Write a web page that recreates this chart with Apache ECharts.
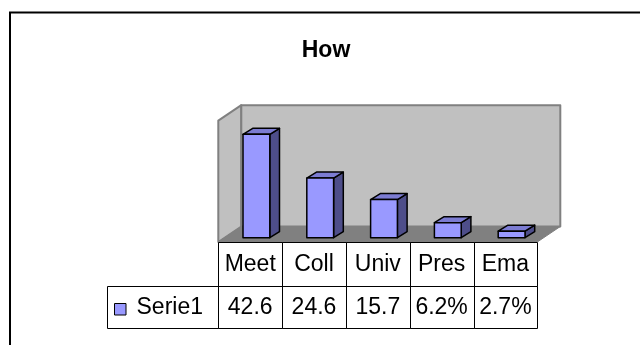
<!DOCTYPE html>
<html>
<head>
<meta charset="utf-8">
<script src="https://cdn.jsdelivr.net/npm/echarts@6/dist/echarts.min.js"></script>
<style>
  html, body { margin: 0; padding: 0; background: #ffffff; }
  #chart { width: 640px; height: 345px; }
</style>
</head>
<body>
<div id="chart"></div>
<script>
// ---- data ----
const categories = ['Meet', 'Coll', 'Univ', 'Pres', 'Ema'];
const values = [42.6, 24.6, 15.7, 6.2, 2.7];
const seriesName = 'Serie1';
const titleText = 'How';
const axisMax = 50;

// ---- styling / 3D geometry ----
const FONT = "'Liberation Sans', Arial, Helvetica, sans-serif";
const BOX_DEPTH = [23, -15.5];   // offset from front to back of the 3D box
const BAR_PLANE = [6.2, -4.3];   // offset of the bars' front face from the box front
const BAR_DEPTH = [9.7, -6];     // depth of a single column
const BAR_WIDTH = 0.42;          // fraction of a category band
const ROW1_H = 44;               // category row of the data table
const ROW2_H = 41.7;             // value row of the data table
const LEGEND_LEFT = 106.5;
const BAR_FRONT = '#9999FF', BAR_TOP = '#7C7CD2', BAR_SIDE = '#4E4E8A';
const WALL = '#C0C0C0', FLOOR = '#808080', EDGE = '#808080';

const crisp = v => Math.round(v) + 0.5;

const chart = echarts.init(document.getElementById('chart'), null, { renderer: 'canvas' });

const seriesData = values.map((v, i) => [i, v]);

// walls and floor of the 3D plot area
function renderFrame(params, api) {
  const cs = params.coordSys;
  const fx0 = cs.x - BAR_PLANE[0];
  const fx1 = fx0 + cs.width;
  const fyTop = cs.y - BAR_PLANE[1];
  const fyBot = cs.y + cs.height - BAR_PLANE[1];
  const [dx, dy] = BOX_DEPTH;
  return {
    type: 'group',
    children: [
      { // left side wall
        type: 'polygon',
        shape: { points: [[fx0, fyBot], [fx0, fyTop], [fx0 + dx, fyTop + dy], [fx0 + dx, fyBot + dy]] },
        style: { fill: WALL, stroke: EDGE, lineWidth: 2, lineJoin: 'round' }
      },
      { // back wall
        type: 'polygon',
        shape: { points: [[fx0 + dx, fyTop + dy], [fx1 + dx, fyTop + dy], [fx1 + dx, fyBot + dy], [fx0 + dx, fyBot + dy]] },
        style: { fill: WALL, stroke: EDGE, lineWidth: 2, lineJoin: 'round' }
      },
      { // floor
        type: 'polygon',
        shape: { points: [[fx0, fyBot], [fx1, fyBot], [fx1 + dx, fyBot + dy], [fx0 + dx, fyBot + dy]] },
        style: { fill: FLOOR, stroke: EDGE, lineWidth: 1 }
      }
    ]
  };
}

// a single 3D column
function renderBar(params, api) {
  const i = api.value(0);
  const v = api.value(1);
  const base = api.coord([i, 0]);
  const top = api.coord([i, v]);
  const bw = api.size([1, 0])[0] * BAR_WIDTH;
  const xl = base[0] - bw / 2, xr = base[0] + bw / 2;
  const yb = base[1], yt = top[1];
  const [dx, dy] = BAR_DEPTH;
  const line = { stroke: '#000000', lineWidth: 1.5, lineJoin: 'round' };
  return {
    type: 'group',
    children: [
      { type: 'polygon', shape: { points: [[xr, yt], [xr + dx, yt + dy], [xr + dx, yb + dy], [xr, yb]] },
        style: Object.assign({ fill: BAR_SIDE }, line) },
      { type: 'polygon', shape: { points: [[xl, yt], [xr, yt], [xr + dx, yt + dy], [xl + dx, yt + dy]] },
        style: Object.assign({ fill: BAR_TOP }, line) },
      { type: 'rect', shape: { x: xl, y: yt, width: bw, height: yb - yt },
        style: Object.assign({ fill: BAR_FRONT }, line) }
    ]
  };
}

// data table below the plot: category row, value row and legend cell
function renderTable(params, api) {
  const i = api.value(0);
  const v = api.value(1);
  const c = api.coord([i, 0]);
  const bw = api.size([1, 0])[0];
  const x0 = c[0] - bw / 2 - BAR_PLANE[0];
  const x1 = x0 + bw;
  const y0 = c[1] - BAR_PLANE[1];
  const y1 = y0 + ROW1_H;
  const y2 = y1 + ROW2_H;
  const cellLine = { fill: 'none', stroke: '#000000', lineWidth: 1 };
  const txt = { fontFamily: FONT, fontSize: 23, fill: '#000000', align: 'center', verticalAlign: 'middle' };
  const children = [
    { type: 'rect', shape: { x: crisp(x0), y: crisp(y0), width: Math.round(x1) - Math.round(x0), height: Math.round(y1) - Math.round(y0) }, style: cellLine },
    { type: 'rect', shape: { x: crisp(x0), y: crisp(y1), width: Math.round(x1) - Math.round(x0), height: Math.round(y2) - Math.round(y1) }, style: cellLine },
    { type: 'text', style: Object.assign({ text: categories[i], x: (x0 + x1) / 2, y: (y0 + y1) / 2 + 1,
        width: bw - 2, overflow: 'truncate', ellipsis: '' }, txt) },
    { type: 'text', style: Object.assign({ text: v.toFixed(1) + '%', x: (x0 + x1) / 2, y: (y1 + y2) / 2 + 1,
        width: bw - 2, overflow: 'truncate', ellipsis: '' }, txt) }
  ];
  if (i === 0) {
    children.push(
      { type: 'rect', shape: { x: crisp(LEGEND_LEFT), y: crisp(y1), width: Math.round(x0) - Math.round(LEGEND_LEFT), height: Math.round(y2) - Math.round(y1) }, style: cellLine },
      { type: 'rect', shape: { x: 114.5, y: 303.5, width: 11.5, height: 11.5 }, style: { fill: BAR_FRONT, stroke: '#000000', lineWidth: 1 } },
      { type: 'text', style: Object.assign({}, txt, { text: seriesName, x: 136.5, y: (y1 + y2) / 2 + 1, align: 'left' }) }
    );
  }
  return { type: 'group', children };
}

chart.setOption({
  backgroundColor: '#ffffff',
  animation: false,
  title: {
    text: titleText,
    left: 321,
    top: 34,
    textAlign: 'center',
    textStyle: { fontFamily: FONT, fontSize: 23, fontWeight: 'bold', color: '#000000' }
  },
  graphic: [{
    type: 'rect',
    shape: { x: 10, y: 12.5, width: 700, height: 400 },
    style: { fill: 'none', stroke: '#000000', lineWidth: 2 },
    silent: true
  }],
  grid: { left: 224.5, top: 116.4, width: 319, height: 121.3 },
  xAxis: {
    type: 'category',
    data: categories,
    show: false
  },
  yAxis: {
    type: 'value',
    min: 0,
    max: axisMax,
    show: false
  },
  series: [
    { type: 'custom', name: 'frame', data: [[0, 0]], renderItem: renderFrame, silent: true, z: 1 },
    { type: 'custom', name: seriesName, data: seriesData, renderItem: renderBar, clip: false, z: 2 },
    { type: 'custom', name: 'table', data: seriesData, renderItem: renderTable, clip: false, silent: true, z: 3 }
  ]
});
</script>
</body>
</html>
